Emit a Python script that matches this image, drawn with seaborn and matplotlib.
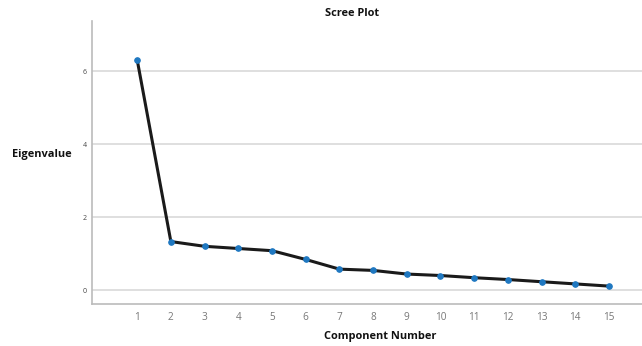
import matplotlib
matplotlib.use("Agg")
import matplotlib.pyplot as plt
import seaborn as sns
import pandas as pd

components = list(range(1, 16))
eigenvalues = [6.31, 1.33, 1.20, 1.14, 1.08, 0.84, 0.575, 0.54, 0.44, 0.40, 0.34, 0.29, 0.23, 0.17, 0.11]
y_ticks = [0, 2, 4, 6]

sns.set_theme(style="white")
plt.rcParams['font.family'] = ['Open Sans', 'DejaVu Sans']

df = pd.DataFrame({"Component Number": components, "Eigenvalue": eigenvalues})

fig = plt.figure(figsize=(6.42, 3.46), dpi=100)
ax = fig.add_axes([92/642, 42/346, 550/642, 283/346])

for yt in y_ticks:
    ax.axhline(yt, color="#d9d9d9", lw=1.2, zorder=0)

sns.lineplot(data=df, x="Component Number", y="Eigenvalue", ax=ax,
             color="#1a1a1a", lw=2.2, marker="o", markersize=4,
             markerfacecolor="#1f78c1", markeredgecolor="#1f78c1", zorder=3)

ax.set_xlim(-0.34, 15.98)
ax.set_ylim(-0.38, 7.37)
ax.set_xticks(components)
ax.set_xticklabels([str(c) for c in components], fontsize=7.2, color="#777777")
ax.set_yticks(y_ticks)
ax.set_yticklabels([str(v) for v in y_ticks], fontsize=5, color="#444444")
ax.tick_params(axis="both", length=0, pad=4)
ax.tick_params(axis="x", pad=6)

for s in ["top", "right"]:
    ax.spines[s].set_visible(False)
ax.spines["left"].set_color("#bbbbbb")
ax.spines["bottom"].set_color("#bbbbbb")
ax.spines["left"].set_linewidth(1.2)
ax.spines["bottom"].set_linewidth(1.2)

ax.set_xlabel("")
ax.set_ylabel("")
fig.text(380/642, 1 - 337/346, "Component Number", ha="center", va="center",
         fontsize=7.9, fontweight="bold", color="#111111")
fig.text(12/642, 1 - 154/346, "Eigenvalue", ha="left", va="center",
         fontsize=7.9, fontweight="bold", color="#111111")
fig.text(352/642, 1 - 13/346, "Scree Plot", ha="center", va="center",
         fontsize=7.9, fontweight="bold", color="#111111")

fig.savefig("out.png", dpi=100, facecolor="white")
